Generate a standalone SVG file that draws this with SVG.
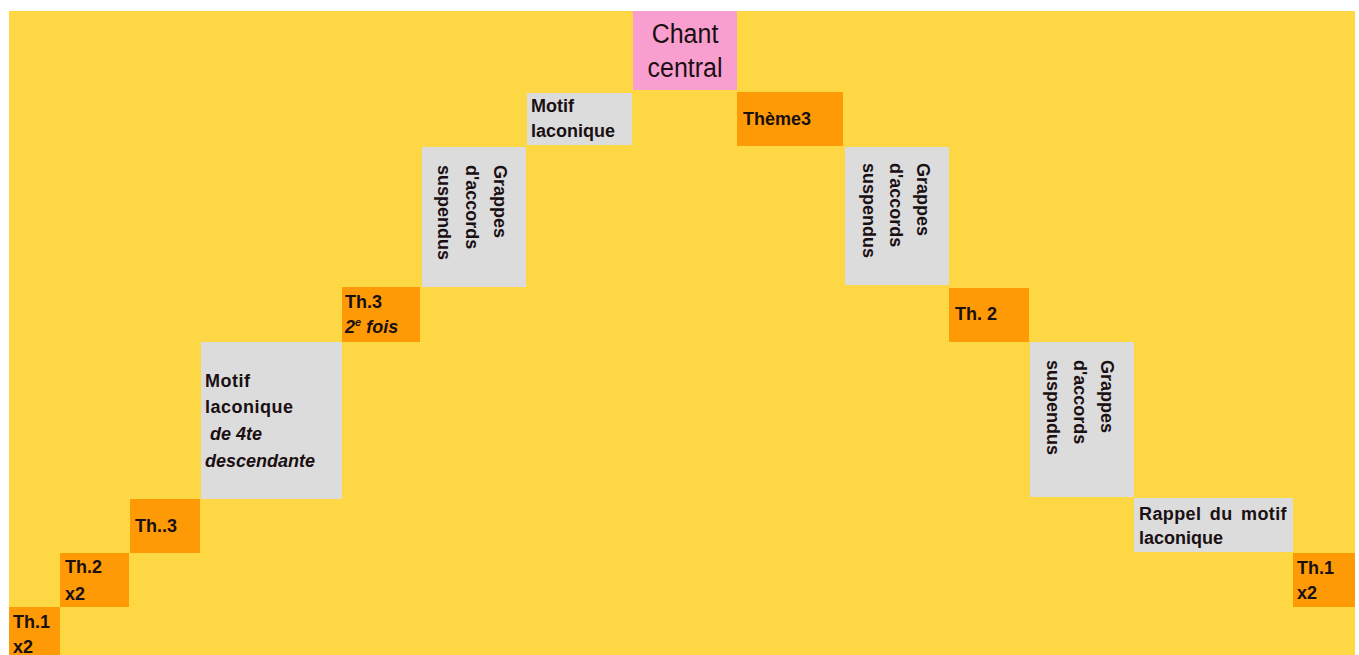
<svg xmlns="http://www.w3.org/2000/svg" width="1359" height="655" viewBox="0 0 1359 655">
<style>
.bg{fill:#FDD844}
.or{fill:#FE9A06}
.gr{fill:#DCDCDC}
.pk{fill:#F99FD0}
text{font-family:"Liberation Sans",Arial,sans-serif;fill:#1a0f12}
.b{font-weight:bold;font-size:18px}
.bi{font-weight:bold;font-style:italic;font-size:18px}
.c{font-size:25px;text-anchor:middle}
</style>
<rect x="0" y="0" width="1359" height="655" fill="#ffffff"/>
<rect class="bg" x="9" y="11" width="1346" height="644"/>

<g id="th1-left">
<rect class="or" x="9" y="607" width="51" height="48"/>
<text class="b" x="13" y="628">Th.1</text>
<text class="b" x="13" y="653">x2</text>
</g>
<g id="th2-left">
<rect class="or" x="60" y="553" width="69" height="54"/>
<text class="b" x="65" y="573">Th.2</text>
<text class="b" x="65" y="600">x2</text>
</g>
<g id="th3-left">
<rect class="or" x="130" y="499" width="70" height="54"/>
<text class="b" x="135" y="532">Th..3</text>
</g>
<g id="motif-4te">
<rect class="gr" x="201" y="342" width="141" height="157"/>
<text class="b" x="205" y="387" letter-spacing="0.5">Motif</text>
<text class="b" x="205" y="413" letter-spacing="0.5">laconique</text>
<text class="bi" x="205" y="440" xml:space="preserve"> de 4te</text>
<text class="bi" x="205" y="467">descendante</text>
</g>
<g id="th3-2e-fois">
<rect class="or" x="342" y="287" width="78" height="55"/>
<text class="b" x="345" y="308">Th.3</text>
<text class="bi" x="345" y="333">2<tspan font-size="11" dy="-7">e</tspan><tspan dy="7"> fois</tspan></text>
</g>
<g id="grappes-left">
<rect class="gr" x="422" y="147" width="104" height="140"/>
<g transform="translate(494,165) rotate(90)"><text class="b" x="0" y="0">Grappes</text></g>
<g transform="translate(466,165) rotate(90)"><text class="b" x="0" y="0">d'accords</text></g>
<g transform="translate(438,165) rotate(90)"><text class="b" x="0" y="0">suspendus</text></g>
</g>
<g id="motif-top">
<rect class="gr" x="527" y="93" width="105" height="52"/>
<text class="b" x="531" y="112">Motif</text>
<text class="b" x="531" y="137">laconique</text>
</g>
<g id="chant-central">
<rect class="pk" x="633" y="11" width="104" height="79"/>
<g transform="translate(685,43) scale(1,1.12)"><text class="c" x="0" y="0">Chant</text></g>
<g transform="translate(685,77) scale(1,1.12)"><text class="c" x="0" y="0">central</text></g>
</g>
<g id="theme3">
<rect class="or" x="737" y="92" width="106" height="54"/>
<text class="b" x="743" y="125">Thème3</text>
</g>
<g id="grappes-right">
<rect class="gr" x="845" y="147" width="104" height="138"/>
<g transform="translate(917,163) rotate(90)"><text class="b" x="0" y="0">Grappes</text></g>
<g transform="translate(890,163) rotate(90)"><text class="b" x="0" y="0">d'accords</text></g>
<g transform="translate(863,163) rotate(90)"><text class="b" x="0" y="0">suspendus</text></g>
</g>
<g id="th2-right">
<rect class="or" x="949" y="288" width="80" height="54"/>
<text class="b" x="955" y="320">Th. 2</text>
</g>
<g id="grappes-low">
<rect class="gr" x="1030" y="342" width="104" height="155"/>
<g transform="translate(1101,360) rotate(90)"><text class="b" x="0" y="0">Grappes</text></g>
<g transform="translate(1074,360) rotate(90)"><text class="b" x="0" y="0">d'accords</text></g>
<g transform="translate(1047,360) rotate(90)"><text class="b" x="0" y="0">suspendus</text></g>
</g>
<g id="rappel">
<rect class="gr" x="1134" y="498" width="159" height="54"/>
<text class="b" x="1139" y="520" word-spacing="3" letter-spacing="0.4">Rappel du motif</text>
<text class="b" x="1139" y="544">laconique</text>
</g>
<g id="th1-right">
<rect class="or" x="1293" y="553" width="62" height="54"/>
<text class="b" x="1297" y="574">Th.1</text>
<text class="b" x="1297" y="599">x2</text>
</g>
</svg>
